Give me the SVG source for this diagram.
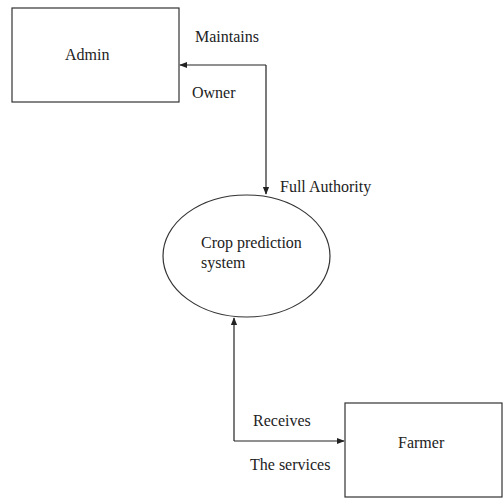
<svg xmlns="http://www.w3.org/2000/svg" width="504" height="498" viewBox="0 0 504 498">
<style>
.box{fill:#fff;stroke:#333;stroke-width:1.2}
.t{font-family:"Liberation Serif","Times New Roman",serif;font-size:16px;fill:#222}
.c{fill:none;stroke:#222;stroke-width:1.2}
</style>
<defs>
<marker id="ah" viewBox="0 0 10 10" refX="9" refY="5" markerWidth="8" markerHeight="8" orient="auto" markerUnits="userSpaceOnUse">
<path d="M0,1 L10,5 L0,9 z" fill="#222"/>
</marker>
</defs>
<rect width="504" height="498" fill="#fff"/>
<g id="admin">
<rect class="box" x="12" y="8" width="167" height="94"/>
<text class="t" x="65" y="60">Admin</text>
</g>
<g id="system">
<ellipse class="box" cx="246.5" cy="256" rx="83.5" ry="61"/>
<text class="t" x="201" y="248">Crop prediction</text>
<text class="t" x="201" y="268">system</text>
</g>
<g id="farmer">
<rect class="box" x="345" y="403" width="157" height="94"/>
<text class="t" x="398" y="448">Farmer</text>
</g>
<g id="connectors">
<path class="c" d="M266,65 H180" marker-end="url(#ah)"/>
<path class="c" d="M266,65 V194" marker-end="url(#ah)"/>
<path class="c" d="M234,441 V318" marker-end="url(#ah)"/>
<path class="c" d="M234,441 H344" marker-end="url(#ah)"/>
<text class="t" x="195" y="42">Maintains</text>
<text class="t" x="192" y="98">Owner</text>
<text class="t" x="280" y="192">Full Authority</text>
<text class="t" x="253" y="426">Receives</text>
<text class="t" x="250" y="470">The services</text>
</g>
</svg>
